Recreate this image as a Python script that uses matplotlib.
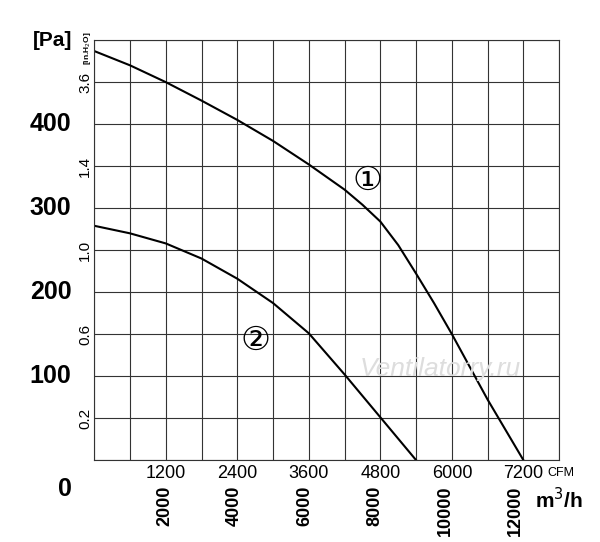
"""
	fan_curve.py
"""
import numpy as np
import matplotlib.pyplot as plt

plt.rcParams['font.family'] = ['Liberation Sans Narrow', 'Liberation Sans', 'DejaVu Sans']

# curve data (CFM, Pa)
cfm_1 = [0, 600, 1200, 1800, 2400, 3000, 3600, 4200, 4500, 4800, 5100, 5400, 5700, 6000, 6600, 7200]
pa_1 = [487, 470, 450, 428, 405, 380, 352, 322, 304, 284, 256, 222, 187, 150, 72, 0]
cfm_2 = [0, 600, 1200, 1800, 2400, 3000, 3600, 4200, 4800, 5400]
pa_2 = [279, 270, 258, 240, 216, 187, 151, 102, 51, 0]

cfm_ticks = [1200, 2400, 3600, 4800, 6000, 7200]
m3h_ticks = [2000, 4000, 6000, 8000, 10000, 12000]
pa_ticks = [100, 200, 300, 400]
inh2o_ticks = [50, 150, 250, 350, 450]
inh2o_labels = ['0.2', '0.6', '1.0', '1.4', '3.6']

fig = plt.figure(figsize=(6, 5.42), dpi=100)
ax = fig.add_axes([0.157, 0.151, 0.775, 0.775])
ax.plot(cfm_1, pa_1, color='black', lw=1.5)
ax.plot(cfm_2, pa_2, color='black', lw=1.5)
ax.set_xlim(0, 7800)
ax.set_ylim(0, 500)
ax.set_xticks(np.arange(0, 7801, 600))
ax.set_yticks(np.arange(0, 501, 50))
ax.grid(color='#333333', lw=0.8)
ax.tick_params(length=0, labelbottom=False, labelleft=False)
for s in ax.spines.values():
    s.set_color('#333333')
    s.set_linewidth(0.8)

# curve numbers
ax.text(4587, 333, '\u2460', fontsize=24, ha='center', va='center', family='DejaVu Sans')
ax.text(2700, 143, '\u2461', fontsize=24, ha='center', va='center', family='DejaVu Sans')
ax.text(5800, 108, 'Ventilatorry.ru', fontsize=19, style='italic', color='#dddddd', ha='center', va='center')

# axis labels
for t in cfm_ticks:
    ax.text(t, -6, str(t), ha='center', va='top', fontsize=13)
ax.text(7600, -8, 'CFM', ha='left', va='top', fontsize=9)
for t in m3h_ticks:
    ax.text(t / 1.699, -30, str(t), ha='center', va='top', rotation=90, fontsize=13, fontweight='bold')
ax.text(7400, -32, 'm$^3$/h', ha='left', va='top', fontsize=15, fontweight='bold')
for t in pa_ticks:
    ax.text(-380, t, str(t), ha='right', va='center', fontsize=18, fontweight='bold')
ax.text(-380, -20, '0', ha='right', va='top', fontsize=18, fontweight='bold')
ax.text(-360, 500, '[Pa]', ha='right', va='center', fontsize=15, fontweight='bold')
for t, lab in zip(inh2o_ticks, inh2o_labels):
    ax.text(-150, t, lab, ha='center', va='center', rotation=90, fontsize=11)
ax.text(-120, 490, '[in.H$_2$O]', ha='center', va='center', rotation=90, fontsize=6, fontweight='bold')

fig.savefig('out.png', dpi=100)
